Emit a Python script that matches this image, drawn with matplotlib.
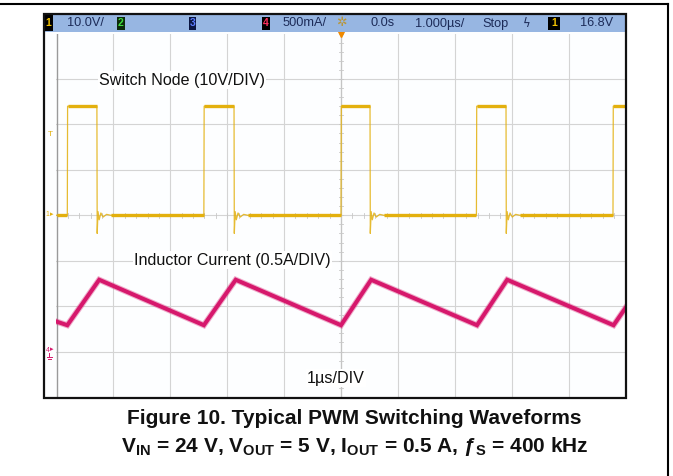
import matplotlib
matplotlib.use('Agg')
import matplotlib.pyplot as plt
from matplotlib.patches import Rectangle
from matplotlib.lines import Line2D

plt.rcParams['font.family'] = ['Liberation Sans', 'DejaVu Sans']
plt.rcParams['mathtext.fontset'] = 'custom'
plt.rcParams['mathtext.rm'] = 'Liberation Sans'
plt.rcParams['mathtext.bf'] = 'Liberation Sans:bold'
plt.rcParams['mathtext.it'] = 'Liberation Sans:italic'

# ---------------- data ----------------
# Switch node voltage (channel 1), time in microseconds, volts
sw_time_us = [-5.00, -4.81, -4.805, -4.29, -4.285, -4.27, -4.25, -4.22, -4.18, -4.12, -4.05,
              -2.41, -2.405, -1.88, -1.875, -1.86, -1.84, -1.81, -1.77, -1.71, -1.64,
              0.00, 0.005, 0.51, 0.515, 0.53, 0.55, 0.58, 0.62, 0.68, 0.75,
              2.38, 2.385, 2.90, 2.905, 2.92, 2.94, 2.97, 3.01, 3.07, 3.14,
              4.78, 4.785, 5.00]
sw_volt = [0.0, 0.0, 24.0, 24.0, -4.0, 0.8, -1.0, 0.5, -0.4, 0.2, 0.0,
           0.0, 24.0, 24.0, -4.0, 0.8, -1.0, 0.5, -0.4, 0.2, 0.0,
           0.0, 24.0, 24.0, -4.0, 0.8, -1.0, 0.5, -0.4, 0.2, 0.0,
           0.0, 24.0, 24.0, -4.0, 0.8, -1.0, 0.5, -0.4, 0.2, 0.0,
           0.0, 24.0, 24.0]

# Inductor current (channel 4), time in microseconds, amps
il_time_us = [-5.00, -4.81, -4.25, -2.41, -1.85, 0.00, 0.53, 2.39, 2.92, 4.79, 5.00]
il_amp = [0.33, 0.29, 0.79, 0.29, 0.79, 0.29, 0.79, 0.29, 0.79, 0.29, 0.48]

CH1_V_PER_DIV = 10.0
CH1_OFFSET_DIV = 0.0
CH4_A_PER_DIV = 0.5
CH4_OFFSET_DIV = -3.0

header_items = ["10.0V/", "500mA/", "0.0s", "1.000µs/", "Stop", "16.8V"]
label_switch = "Switch Node (10V/DIV)"
label_current = "Inductor Current (0.5A/DIV)"
label_time = "1µs/DIV"
caption_1 = "Figure 10. Typical PWM Switching Waveforms"
caption_2 = (r"$\mathbf{V_{IN}}$ = 24 V, $\mathbf{V_{OUT}}$ = 5 V, "
             r"$\mathbf{I_{OUT}}$ = 0.5 A, ƒ$_\mathbf{S}$ = 400 kHz")

# ---------------- figure ----------------
W, H = 673, 476
fig = plt.figure(figsize=(W / 100, H / 100), dpi=100)
fig.patch.set_facecolor('white')


def fx(x):
    return x / W


def fy(y):
    return 1 - y / H


YEL = '#e3b00e'
PINK = '#d6186c'
NAVY = '#1c2b58'

# outer frame
fig.add_artist(Line2D([fx(0), fx(668)], [fy(4), fy(4)], color='black', lw=1.5))
fig.add_artist(Line2D([fx(668), fx(668)], [fy(4), fy(476)], color='black', lw=1.5))

# scope screen background
fig.add_artist(Rectangle((fx(44), fy(398)), fx(626) - fx(44), fy(14) - fy(398),
                         facecolor='#fdfeff', edgecolor='none', zorder=-1))

# graticule axes
ax = fig.add_axes([fx(56.5), fy(397), fx(625.5) - fx(56.5), fy(33.5) - fy(397)])
ax.set_xlim(-5, 5)
ax.set_ylim(-4, 4)
ax.patch.set_visible(False)
for s in ax.spines.values():
    s.set_visible(False)
ax.set_xticks([])
ax.set_yticks([])

for xv in range(-4, 5):
    ax.axvline(xv, color='#d4d4d4', lw=0.8, zorder=1)
for yv in range(-3, 4):
    ax.axhline(yv, color='#d4d4d4', lw=0.8, zorder=1)
ax.axvline(-5, color='#9a9a9a', lw=1.0, zorder=1)
ax.axvline(0, color='#c4c4c4', lw=0.9, zorder=1)
# minor ticks on the centre lines
for k in range(-40, 41):
    t = k * 0.2
    if -4.95 < t < 4.95:
        ax.plot([t, t], [-0.05, 0.05], color='#c8c8c8', lw=0.6, zorder=1)
for k in range(-20, 21):
    t = k * 0.2
    ax.plot([-0.04, 0.04], [t, t], color='#c8c8c8', lw=0.6, zorder=1)

# traces
sw_div = [v / CH1_V_PER_DIV + CH1_OFFSET_DIV for v in sw_volt]
il_div = [a / CH4_A_PER_DIV + CH4_OFFSET_DIV for a in il_amp]

ax.plot(sw_time_us, sw_div, color=YEL, lw=0.9, alpha=0.85, zorder=3)
for i in range(len(sw_time_us) - 1):
    if sw_volt[i] == sw_volt[i + 1] and sw_volt[i] in (0.0, 24.0):
        ax.plot(sw_time_us[i:i + 2], sw_div[i:i + 2], color=YEL, lw=2.4,
                solid_capstyle='butt', zorder=3)

ax.plot(il_time_us, il_div, color=PINK, lw=4.4, alpha=0.35, zorder=4,
        solid_joinstyle='miter')
ax.plot(il_time_us, il_div, color=PINK, lw=2.9, zorder=4, solid_joinstyle='miter')

# trigger marker at top centre
ax.plot([0], [4.0], marker='v', color='#f08a00', markersize=5, clip_on=False, zorder=6)

# left margin markers
fig.text(fx(50), fy(134), 'T', color=YEL, fontsize=6, ha='center', va='center')
fig.text(fx(47.5), fy(215), '1', color=YEL, fontsize=5, ha='center', va='center')
fig.text(fx(52), fy(215), '▸', color=YEL, fontsize=5, ha='center', va='center')
fig.text(fx(47.5), fy(350), '4', color=PINK, fontsize=5, ha='center', va='center')
fig.text(fx(52), fy(350), '▸', color=PINK, fontsize=5, ha='center', va='center')
# small ground sign under the channel-4 marker
fig.add_artist(Line2D([fx(49), fx(49)], [fy(353), fy(357)], color=PINK, lw=0.7))
fig.add_artist(Line2D([fx(46.5), fx(51.5)], [fy(357), fy(357)], color=PINK, lw=0.7))
fig.add_artist(Line2D([fx(47.5), fx(50.5)], [fy(359), fy(359)], color=PINK, lw=0.7))

# header bar
fig.add_artist(Rectangle((fx(44), fy(32)), fx(626) - fx(44), fy(14) - fy(32),
                         facecolor='#97b6e2', edgecolor='none', zorder=4))


def chbox(x0, x1, y0, y1, txt, col, face='black'):
    fig.add_artist(Rectangle((fx(x0), fy(y1)), fx(x1) - fx(x0), fy(y0) - fy(y1),
                             facecolor=face, edgecolor='none', zorder=5))
    fig.text(fx((x0 + x1) / 2), fy((y0 + y1) / 2), txt, color=col, fontsize=7.5,
             fontweight='bold', ha='center', va='center', zorder=6)


chbox(44, 53, 15, 31, '1', '#f2c200')
chbox(117, 125, 17, 30, '2', '#3fdc3f', face='#0c2a0c')
chbox(189, 196, 17, 30, '3', '#5a7cff', face='#0a1540')
chbox(262, 270, 17, 30, '4', '#ff3060')
chbox(548, 560, 17, 30, '1', '#f2c200')

hdr_x = [67, 283, 370, 415, 482, 580]
for txt, x in zip(header_items, hdr_x):
    fig.text(fx(x), fy(23.5), txt, color=NAVY, fontsize=9.2, ha='left', va='center',
             zorder=6)
fig.text(fx(341), fy(23), '✲', color='#b8963a', fontsize=9, ha='center', va='center',
         family=['DejaVu Sans'], zorder=6)
fig.text(fx(527), fy(23.5), 'ϟ', color=NAVY, fontsize=8.5, ha='center', va='center',
         family=['DejaVu Sans'], zorder=6)

# screen border
fig.add_artist(Rectangle((fx(44), fy(398)), fx(626) - fx(44), fy(14) - fy(398),
                         facecolor='none', edgecolor='#111111', lw=1.6, zorder=7))

# annotation texts
box = dict(facecolor='white', edgecolor='none', pad=1.0)
fig.text(fx(99), fy(80), label_switch, fontsize=11.6, ha='left', va='center',
         color='#111111', bbox=box, zorder=8)
fig.text(fx(134), fy(260), label_current, fontsize=11.6, ha='left', va='center',
         color='#111111', bbox=box, zorder=8)
fig.text(fx(307), fy(378), label_time, fontsize=11.6, ha='left', va='center',
         color='#111111', bbox=box, zorder=8)

# caption
fig.text(fx(354.5), fy(419), caption_1, fontsize=15.0, fontweight='bold',
         ha='center', va='center', color='#111111')
fig.text(fx(354.5), fy(447), caption_2, fontsize=15.0, fontweight='bold',
         ha='center', va='center', color='#111111')

fig.savefig('out.png', dpi=100, facecolor='white')
